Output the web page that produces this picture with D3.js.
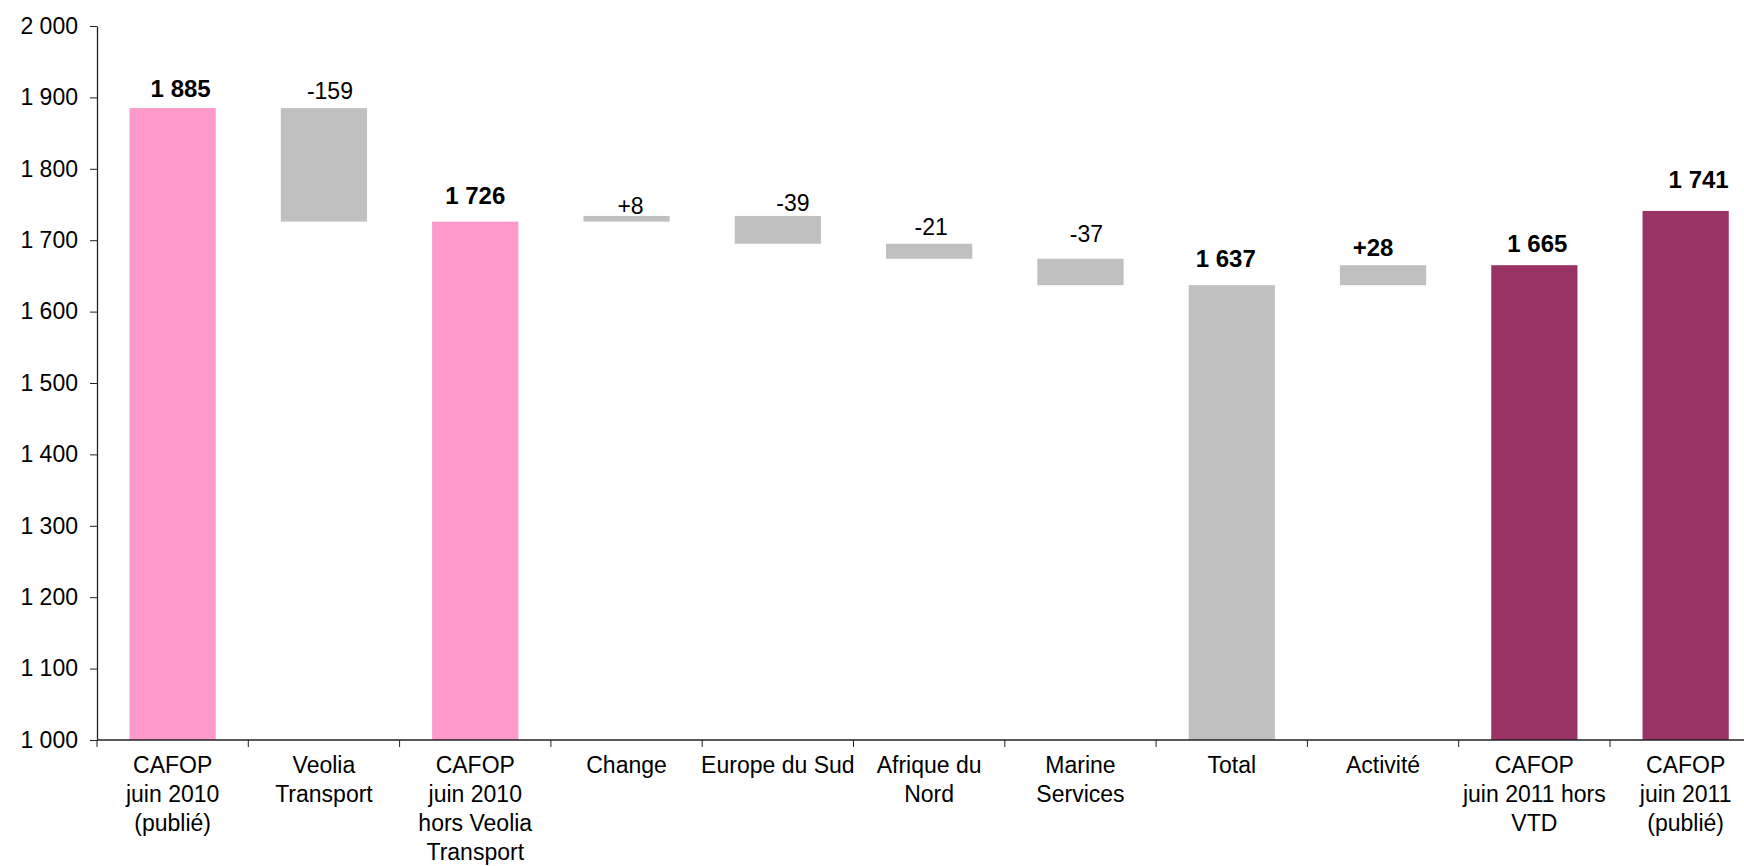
<!DOCTYPE html>
<html>
<head>
<meta charset="utf-8">
<script src="https://cdn.jsdelivr.net/npm/d3@7"></script>
<style>
  html, body { margin: 0; padding: 0; background: #fff; }
  svg { display: block; font-family: "Liberation Sans", Arial, sans-serif; }
</style>
</head>
<body>
<svg id="chart" width="1744" height="866"></svg>
<script>
// Category labels (one entry per bar, wrapped into lines)
const categoryLines = [
  ["CAFOP", "juin 2010", "(publié)"],
  ["Veolia", "Transport"],
  ["CAFOP", "juin 2010", "hors Veolia", "Transport"],
  ["Change"],
  ["Europe du Sud"],
  ["Afrique du", "Nord"],
  ["Marine", "Services"],
  ["Total"],
  ["Activité"],
  ["CAFOP", "juin 2011 hors", "VTD"],
  ["CAFOP", "juin 2011", "(publié)"]
];
const categories = categoryLines.map(l => l.join(" "));

// Bar values: totals are full bars, deltas float from the running total
const values = [1885, -159, 1726, 8, -39, -21, -37, 1637, 28, 1665, 1741];
const kinds  = ["total", "delta", "total", "delta", "delta", "delta", "delta", "total", "delta", "total", "total"];

// Y axis ticks
const yTicks = [1000, 1100, 1200, 1300, 1400, 1500, 1600, 1700, 1800, 1900, 2000];
const yDomain = [1000, 2000];

// Styling per bar
const barColors = ["#FF99CC", "#C0C0C0", "#FF99CC", "#C0C0C0", "#C0C0C0", "#C0C0C0",
                   "#C0C0C0", "#C0C0C0", "#C0C0C0", "#993366", "#993366"];
const labelBold = [true, false, true, false, false, false, false, true, true, true, true];
// Label placement: horizontal shift and gap above bar top (px)
const labelDx  = [8, 6, 0, 4, 15, 2, 6, -6, -10, 3, 13];
const labelGap = [11, 9, 18, 2, 5, 9, 17, 18, 9, 13, 23];

// Layout
const axisX = 97;
const step = 151.3;
const plotTop = 26, plotBottom = 740;

const svg = d3.select("#chart");

const x = d3.scaleBand()
  .domain(categories)
  .range([axisX, axisX + step * categories.length])
  .padding(0);

const y = d3.scaleLinear().domain(yDomain).range([plotBottom, plotTop]);

// Thousands separated by a space; negative sign as a plain hyphen
const fr = d3.formatLocale({ decimal: ",", thousands: " ", grouping: [3], currency: ["", " €"], minus: "-" });
const fmtTotal = fr.format(",d");
const fmtDelta = v => (v > 0 ? "+" : "") + fr.format(",d")(v);

// Compute floating bar extents
let running = 0;
const bars = values.map((v, i) => {
  let lo, hi;
  if (kinds[i] === "total") {
    running = v;
    lo = yDomain[0]; hi = v;
  } else {
    const start = running;
    running = start + v;
    lo = Math.min(start, running);
    hi = Math.max(start, running);
  }
  return {
    cat: categories[i], value: v, kind: kinds[i], lo, hi, i,
    text: kinds[i] === "total" ? fmtTotal(v) : fmtDelta(v)
  };
});

const barW = x.bandwidth() * 0.57;

// Bars
svg.append("g")
  .selectAll("rect")
  .data(bars)
  .join("rect")
  .attr("x", d => x(d.cat) + (x.bandwidth() - barW) / 2)
  .attr("y", d => y(d.hi))
  .attr("width", barW)
  .attr("height", d => y(d.lo) - y(d.hi))
  .attr("fill", d => barColors[d.i]);

// Value labels
svg.append("g")
  .selectAll("text")
  .data(bars)
  .join("text")
  .attr("x", d => x(d.cat) + x.bandwidth() / 2 + labelDx[d.i])
  .attr("y", d => y(d.hi) - labelGap[d.i])
  .attr("text-anchor", "middle")
  .attr("font-size", d => labelBold[d.i] ? 24 : 23)
  .attr("font-weight", d => labelBold[d.i] ? "bold" : "normal")
  .attr("fill", "#000")
  .text(d => d.text);

// Y axis
const yAxis = d3.axisLeft(y)
  .tickValues(yTicks)
  .tickFormat(fmtTotal)
  .tickSize(7)
  .tickSizeOuter(0)
  .tickPadding(12);

const gy = svg.append("g")
  .attr("transform", `translate(${axisX},0)`)
  .call(yAxis);
gy.select(".domain").attr("stroke", "#222").attr("stroke-width", 1.3);
gy.selectAll(".tick line").attr("stroke", "#222");
gy.selectAll(".tick text")
  .attr("font-size", 23)
  .attr("font-family", "Liberation Sans, Arial, sans-serif")
  .attr("fill", "#000");

// X axis: baseline with ticks between categories
const gx = svg.append("g").attr("transform", `translate(0,${plotBottom})`);
gx.append("line")
  .attr("x1", axisX).attr("x2", x.range()[1])
  .attr("stroke", "#222").attr("stroke-width", 1.3);
const boundaries = d3.range(categories.length + 1).map(k => axisX + k * x.step());
gx.selectAll(".bt")
  .data(boundaries)
  .join("line")
  .attr("class", "bt")
  .attr("x1", d => d).attr("x2", d => d)
  .attr("y1", 0).attr("y2", 7)
  .attr("stroke", "#222");

// Category labels
const lineH = 29;
gx.selectAll(".cat")
  .data(bars)
  .join("text")
  .attr("class", "cat")
  .attr("text-anchor", "middle")
  .attr("font-size", 23)
  .attr("fill", "#000")
  .each(function (d) {
    const t = d3.select(this);
    categoryLines[d.i].forEach((line, k) => {
      t.append("tspan")
        .attr("x", x(d.cat) + x.bandwidth() / 2)
        .attr("y", 33 + k * lineH)
        .text(line);
    });
  });
</script>
</body>
</html>
